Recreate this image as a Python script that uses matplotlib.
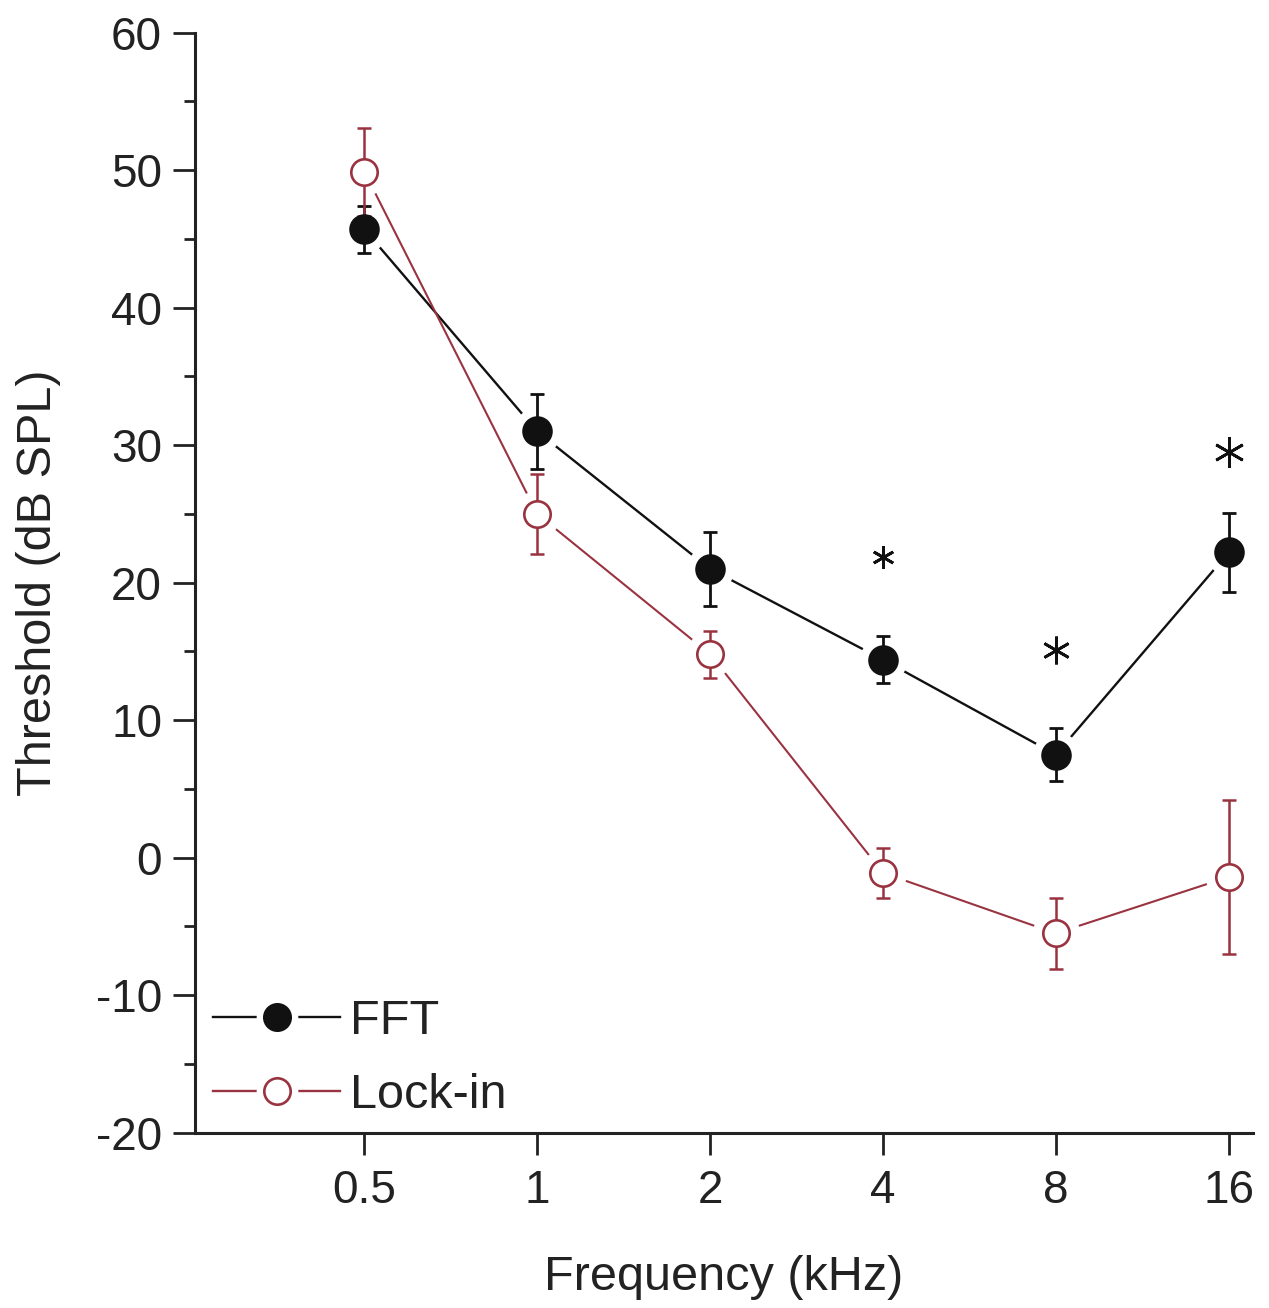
import matplotlib
matplotlib.use("Agg")
import matplotlib.pyplot as plt
from matplotlib.lines import Line2D
from matplotlib.legend_handler import HandlerTuple
from matplotlib.ticker import FixedLocator, MultipleLocator, NullLocator

plt.rcParams['font.family'] = ['Liberation Sans', 'DejaVu Sans']
plt.rcParams['axes.unicode_minus'] = False

freqs = [0.5, 1, 2, 4, 8, 16]
freq_labels = ['0.5', '1', '2', '4', '8', '16']
fft_mean = [45.7, 31.0, 21.0, 14.4, 7.5, 22.2]
fft_err = [1.7, 2.7, 2.7, 1.7, 1.9, 2.9]
lock_mean = [49.9, 25.0, 14.8, -1.1, -5.5, -1.4]
lock_err = [3.2, 2.9, 1.7, 1.8, 2.6, 5.6]
star_freqs = [4, 8, 16]
star_y = [21.9, 15.1, 29.5]

black = '#111111'
red = '#9a3340'

fig = plt.figure(figsize=(12.69, 13.08), dpi=100)
ax = fig.add_axes([0.154, 0.134, 0.833, 0.841])

ms = 20.5
halo = 34

# lines
ax.plot(freqs, fft_mean, color=black, lw=1.7, zorder=1)
ax.plot(freqs, lock_mean, color=red, lw=1.5, zorder=1)
# white halos making gaps between lines and markers
ax.plot(freqs, fft_mean, ls='none', marker='o', ms=halo, mfc='white', mec='none', zorder=2)
ax.plot(freqs, lock_mean, ls='none', marker='o', ms=halo, mfc='white', mec='none', zorder=2)
# error bars
ax.errorbar(freqs, fft_mean, yerr=fft_err, fmt='none', ecolor=black, elinewidth=2.0,
            capsize=5, capthick=2.0, zorder=3)
ax.errorbar(freqs, lock_mean, yerr=lock_err, fmt='none', ecolor=red, elinewidth=1.8,
            capsize=5, capthick=1.8, zorder=3)
# markers
ax.plot(freqs, fft_mean, ls='none', marker='o', ms=ms, mfc=black, mec=black, mew=1.5, zorder=4)
ax.plot(freqs, lock_mean, ls='none', marker='o', ms=ms - 1.5, mfc='white', mec=red, mew=1.9, zorder=4)

# significance asterisks
for f, y, s in zip(star_freqs, star_y, [16, 20, 22]):
    ax.plot([f], [y], ls='none', marker=(6, 2, 0), ms=s, mec=black, mew=2.0, zorder=5)

ax.set_xscale('log', base=2)
ax.set_xlim(0.254, 17.6)
ax.set_ylim(-20, 60)
ax.xaxis.set_major_locator(FixedLocator(freqs))
ax.set_xticklabels(freq_labels)
ax.xaxis.set_minor_locator(NullLocator())
ax.yaxis.set_major_locator(MultipleLocator(10))
ax.yaxis.set_minor_locator(MultipleLocator(5))

for side in ['top', 'right']:
    ax.spines[side].set_visible(False)
for side in ['left', 'bottom']:
    ax.spines[side].set_linewidth(2.2)
    ax.spines[side].set_color('#222222')

ax.tick_params(axis='both', which='major', direction='out', length=16, width=2,
               labelsize=33, pad=8, colors='#222222')
ax.tick_params(axis='y', which='minor', direction='out', length=8, width=2, colors='#222222')
ax.tick_params(axis='x', which='major', pad=10)

ax.set_xlabel('Frequency (kHz)', fontsize=35, labelpad=30, color='#222222')
ax.set_ylabel('Threshold (dB SPL)', fontsize=35, labelpad=25, color='#222222')

# legend with gap-style handles
def handle(color, mfc, mec):
    ln = Line2D([], [], color=color, lw=1.7)
    hl = Line2D([], [], ls='none', marker='o', ms=halo - 4, mfc='white', mec='none')
    mk = Line2D([], [], ls='none', marker='o', ms=ms - 1.5, mfc=mfc, mec=mec, mew=1.9)
    return (ln, hl, mk)

leg = ax.legend([handle(black, black, black), handle(red, 'white', red)], ['FFT', 'Lock-in'],
                handler_map={tuple: HandlerTuple(ndivide=1)},
                loc='lower left', bbox_to_anchor=(0.017, 0.013), borderaxespad=0,
                borderpad=0, frameon=False, fontsize=35, handlelength=2.6,
                handletextpad=0.2, labelspacing=0.6)
for t in leg.get_texts():
    t.set_color('#222222')

fig.savefig('out.png', dpi=100, facecolor='white')
